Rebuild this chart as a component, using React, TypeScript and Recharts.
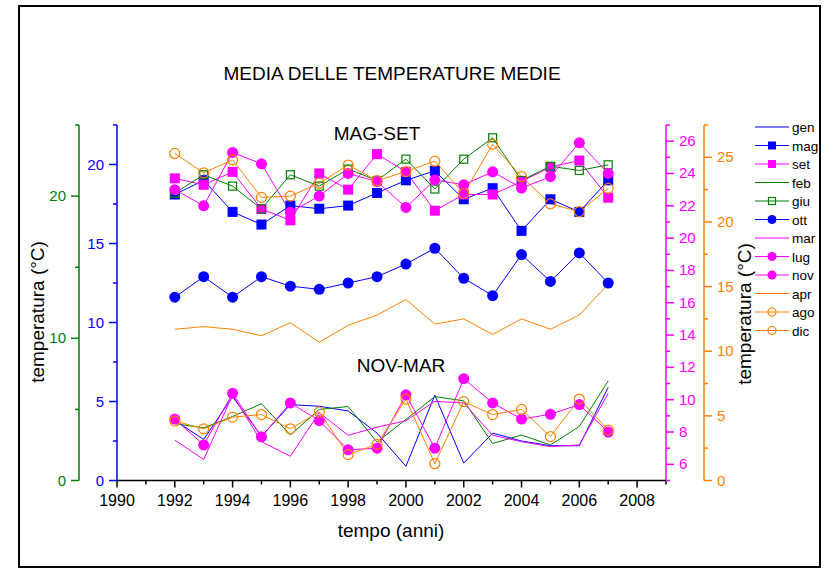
import { LineChart, Line, XAxis, YAxis, Legend } from 'recharts';

const years = [1992, 1993, 1994, 1995, 1996, 1997, 1998, 1999, 2000, 2001, 2002, 2003, 2004, 2005, 2006, 2007];

// asse blu
const gen = [3.8, 2.6, 5.3, 2.8, 4.8, 4.7, 4.4, 3.0, 0.9, 5.4, 1.1, 3.0, 2.5, 2.2, 2.2, 5.9];
const mag = [18.1, 19.0, 17.0, 16.2, 17.4, 17.2, 17.4, 18.2, 19.0, 19.6, 17.8, 18.5, 15.8, 17.8, 17.0, 19.0];
const ott = [11.6, 12.9, 11.6, 12.9, 12.3, 12.1, 12.5, 12.9, 13.7, 14.7, 12.8, 11.7, 14.3, 12.6, 14.4, 12.5];
// asse verde
const feb = [4.0, 3.7, 4.5, 5.4, 3.2, 5.0, 5.2, 2.7, 4.3, 5.9, 5.6, 2.6, 3.2, 2.5, 3.8, 7.0];
const giu = [20.2, 21.5, 20.7, 19.1, 21.5, 20.7, 21.9, 21.1, 22.6, 20.5, 22.6, 24.1, 21.1, 22.1, 21.8, 22.2];
// asse magenta
const set = [23.7, 23.3, 24.1, 21.8, 21.1, 24.0, 23.0, 25.2, 24.1, 21.7, 22.7, 22.7, 23.5, 24.4, 24.8, 22.5];
const mar = [7.5, 6.3, 10.3, 7.4, 6.5, 9.2, 7.8, 8.3, 8.7, 9.9, 9.8, 7.8, 7.4, 7.1, 7.2, 10.4];
const lug = [23.0, 22.0, 25.3, 24.6, 21.6, 22.6, 24.0, 23.5, 21.9, 23.6, 23.3, 24.1, 23.1, 23.8, 25.9, 24.0];
const nov = [8.8, 7.2, 10.4, 7.7, 9.8, 8.7, 6.9, 7.0, 10.3, 7.0, 11.3, 9.8, 8.8, 9.1, 9.7, 8.0];
// asse arancione
const apr = [11.7, 11.9, 11.7, 11.2, 12.2, 10.7, 12.0, 12.8, 14.0, 12.1, 12.5, 11.3, 12.5, 11.7, 12.8, 15.2];
const ago = [25.3, 23.8, 24.8, 21.9, 22.0, 23.0, 24.4, 23.2, 23.9, 24.7, 22.2, 26.0, 23.5, 21.4, 20.8, 22.6];
const dic = [4.6, 4.0, 4.9, 5.1, 4.0, 5.3, 2.0, 2.8, 6.3, 1.3, 6.1, 5.1, 5.5, 3.4, 6.3, 3.9];

const xTicks = [1990, 1991, 1992, 1993, 1994, 1995, 1996, 1997, 1998, 1999, 2000, 2001, 2002, 2003, 2004, 2005, 2006, 2007, 2008, 2009];
const xMajor = [1990, 1992, 1994, 1996, 1998, 2000, 2002, 2004, 2006, 2008];
const greenTicks = [0, 5, 10, 15, 20, 25];
const greenMajor = [0, 10, 20];
const blueTicks = [0, 2.5, 5, 7.5, 10, 12.5, 15, 17.5, 20, 22.5];
const blueMajor = [0, 5, 10, 15, 20];
const magentaTicks = [5, 6, 7, 8, 9, 10, 11, 12, 13, 14, 15, 16, 17, 18, 19, 20, 21, 22, 23, 24, 25, 26, 27];
const magentaMajor = [6, 8, 10, 12, 14, 16, 18, 20, 22, 24, 26];
const orangeTicks = [0, 2.5, 5, 7.5, 10, 12.5, 15, 17.5, 20, 22.5, 25, 27.5];
const orangeMajor = [0, 5, 10, 15, 20, 25];

const BLUE = '#0000ff';
const GREEN = '#008000';
const MAGENTA = '#ff00ff';
const ORANGE = '#ff8000';

const data = years.map((year, i) => ({
  year,
  gen: gen[i], mag: mag[i], set: set[i], feb: feb[i], giu: giu[i], ott: ott[i],
  mar: mar[i], lug: lug[i], nov: nov[i], apr: apr[i], ago: ago[i], dic: dic[i],
}));

type Marker = 'none' | 'square' | 'openSquare' | 'circle' | 'openCircle';

interface SeriesConfig {
  key: string;
  color: string;
  axis: string;
  marker: Marker;
}

const series: SeriesConfig[] = [
  { key: 'gen', color: BLUE, axis: 'blue', marker: 'none' },
  { key: 'mag', color: BLUE, axis: 'blue', marker: 'square' },
  { key: 'set', color: MAGENTA, axis: 'magenta', marker: 'square' },
  { key: 'feb', color: GREEN, axis: 'green', marker: 'none' },
  { key: 'giu', color: GREEN, axis: 'green', marker: 'openSquare' },
  { key: 'ott', color: BLUE, axis: 'blue', marker: 'circle' },
  { key: 'mar', color: MAGENTA, axis: 'magenta', marker: 'none' },
  { key: 'lug', color: MAGENTA, axis: 'magenta', marker: 'circle' },
  { key: 'nov', color: MAGENTA, axis: 'magenta', marker: 'circle' },
  { key: 'apr', color: ORANGE, axis: 'orange', marker: 'none' },
  { key: 'ago', color: ORANGE, axis: 'orange', marker: 'openCircle' },
  { key: 'dic', color: ORANGE, axis: 'orange', marker: 'openCircle' },
];

function drawMarker(marker: Marker, color: string, cx: number, cy: number, size: number, key?: string) {
  const h = size / 2;
  if (marker === 'square') return <rect key={key} x={cx - h} y={cy - h} width={size} height={size} fill={color} />;
  if (marker === 'openSquare')
    return <rect key={key} x={cx - h + 0.5} y={cy - h + 0.5} width={size - 1} height={size - 1} fill="none" stroke={color} strokeWidth={1.2} />;
  if (marker === 'circle') return <circle key={key} cx={cx} cy={cy} r={h + 0.5} fill={color} />;
  if (marker === 'openCircle') return <circle key={key} cx={cx} cy={cy} r={h} fill="none" stroke={color} strokeWidth={1.2} />;
  return <g key={key} />;
}

const FONT = '"Liberation Sans", Arial, sans-serif';

function makeTick(side: 'left' | 'right' | 'bottom', color: string, majors: number[], fontSize = 15) {
  return (props: any) => {
    const { x, y, payload } = props;
    const v = payload.value;
    const major = majors.includes(v);
    const len = major ? 8 : 4;
    if (side === 'left') {
      return (
        <g>
          <line x1={x} x2={x - len} y1={y} y2={y} stroke={color} strokeWidth={1.5} />
          {major && (
            <text x={x - 13} y={y} dy={5} textAnchor="end" fill={color} fontSize={fontSize} fontFamily={FONT}>
              {v}
            </text>
          )}
        </g>
      );
    }
    if (side === 'right') {
      return (
        <g>
          <line x1={x} x2={x + len} y1={y} y2={y} stroke={color} strokeWidth={1.5} />
          {major && (
            <text x={x + 13} y={y} dy={5} textAnchor="start" fill={color} fontSize={fontSize} fontFamily={FONT}>
              {v}
            </text>
          )}
        </g>
      );
    }
    return (
      <g>
        <line x1={x} x2={x} y1={y} y2={y + (major ? 7 : 4)} stroke={color} strokeWidth={1.5} />
        {major && (
          <text x={x} y={y + 25} textAnchor="middle" fill={color} fontSize={16} fontFamily={FONT}>
            {v}
          </text>
        )}
      </g>
    );
  };
}

function LegendBox() {
  return (
    <svg width={66} height={220} style={{ display: 'block' }}>
      {series.map((s, i) => {
        const y = 10 + i * 18.5;
        return (
          <g key={s.key}>
            <line x1={3} x2={37} y1={y} y2={y} stroke={s.color} strokeWidth={1} />
            {drawMarker(s.marker, s.color, 20, y, 8)}
            <text x={40} y={y + 5} fontSize={13.5} fontFamily={FONT} fill="#000">
              {s.key}
            </text>
          </g>
        );
      })}
    </svg>
  );
}

export default function App() {
  return (
    <div style={{ position: 'absolute', left: 0, top: 0, width: 825, height: 568, background: '#fff', fontFamily: FONT }}>
      <LineChart
        width={825}
        height={568}
        data={data}
        margin={{ top: 125, left: 39, right: 71, bottom: 57.5 }}
        style={{ fontFamily: FONT }}
      >
        <rect x={19} y={6} width={801} height={561} fill="none" stroke="#000" strokeWidth={2} />
        <text x={392} y={80} textAnchor="middle" fontSize={19} fontFamily={FONT} fill="#000">
          MEDIA DELLE TEMPERATURE MEDIE
        </text>
        <text x={377} y={140} textAnchor="middle" fontSize={19} fontFamily={FONT} fill="#000">
          MAG-SET
        </text>
        <text x={401} y={372} textAnchor="middle" fontSize={19} fontFamily={FONT} fill="#000">
          NOV-MAR
        </text>
        <text x={391} y={537} textAnchor="middle" fontSize={19} fontFamily={FONT} fill="#000">
          tempo (anni)
        </text>
        <text x={44} y={312} textAnchor="middle" fontSize={19} fontFamily={FONT} fill="#000" transform="rotate(-90 44 312)">
          temperatura (°C)
        </text>
        <text x={751} y={314} textAnchor="middle" fontSize={19} fontFamily={FONT} fill="#000" transform="rotate(-90 751 314)">
          temperatura (°C)
        </text>

        <XAxis
          dataKey="year"
          type="number"
          domain={[1990, 2009]}
          ticks={xTicks}
          interval={0}
          height={30}
          tickSize={0}
          tickMargin={0}
          tickLine={false}
          axisLine={{ stroke: '#000', strokeWidth: 1.5 }}
          tick={makeTick('bottom', '#000', xMajor)}
          allowDecimals={false}
        />
        <YAxis
          yAxisId="blue"
          orientation="left"
          width={38}
          type="number"
          domain={[0, 22.5]}
          ticks={blueTicks}
          interval={0}
          tickSize={0}
          tickMargin={0}
          tickLine={false}
          axisLine={{ stroke: BLUE, strokeWidth: 1.5 }}
          tick={makeTick('left', BLUE, blueMajor)}
        />
        <YAxis
          yAxisId="green"
          orientation="left"
          width={40}
          type="number"
          domain={[0, 25]}
          ticks={greenTicks}
          interval={0}
          tickSize={0}
          tickMargin={0}
          tickLine={false}
          axisLine={{ stroke: GREEN, strokeWidth: 1.5 }}
          tick={makeTick('left', GREEN, greenMajor)}
        />
        <YAxis
          yAxisId="magenta"
          orientation="right"
          width={38}
          type="number"
          domain={[5, 27]}
          ticks={magentaTicks}
          interval={0}
          tickSize={0}
          tickMargin={0}
          tickLine={false}
          axisLine={{ stroke: MAGENTA, strokeWidth: 1.5 }}
          tick={makeTick('right', MAGENTA, magentaMajor)}
        />
        <YAxis
          yAxisId="orange"
          orientation="right"
          width={50}
          type="number"
          domain={[0, 27.5]}
          ticks={orangeTicks}
          interval={0}
          tickSize={0}
          tickMargin={0}
          tickLine={false}
          axisLine={{ stroke: ORANGE, strokeWidth: 1.5 }}
          tick={makeTick('right', ORANGE, orangeMajor)}
        />

        <Legend
          layout="vertical"
          align="center"
          verticalAlign="middle"
          content={() => <LegendBox />}
          wrapperStyle={{ position: 'absolute', left: 752, top: 117, width: 66, height: 220 }}
        />

        {series.map((s) => (
          <Line
            key={s.key}
            yAxisId={s.axis}
            dataKey={s.key}
            name={s.key}
            type="linear"
            stroke={s.color}
            strokeWidth={1}
            isAnimationActive={false}
            activeDot={false}
            dot={
              s.marker === 'none'
                ? false
                : (p: any) => drawMarker(s.marker, s.color, p.cx, p.cy, s.marker === 'openSquare' ? 9 : 10, `${s.key}-${p.index}`)
            }
          />
        ))}
      </LineChart>
    </div>
  );
}
